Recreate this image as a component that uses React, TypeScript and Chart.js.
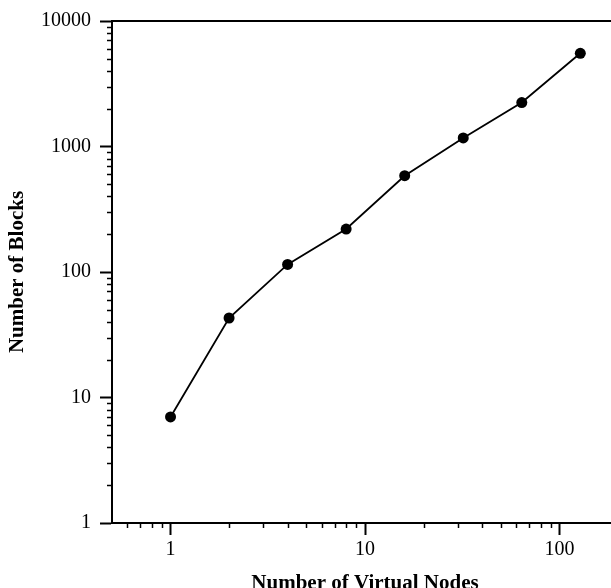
import React, { useEffect, useRef } from "react";
import { Chart, registerables } from "chart.js";

Chart.register(...registerables);

const virtualNodes = [1, 2, 4, 8, 16, 32, 64, 128];
const blockCounts = [7, 43, 115, 220, 585, 1170, 2240, 5530];
const xMajorTicks = [1, 10, 100];
const yMajorTicks = [1, 10, 100, 1000, 10000];
const xMinorTicks = [0.6, 0.7, 0.8, 0.9, 2, 3, 4, 5, 6, 7, 8, 9, 20, 30, 40, 50, 60, 70, 80, 90];
const yMinorTicks = [
  2, 3, 4, 5, 6, 7, 8, 9,
  20, 30, 40, 50, 60, 70, 80, 90,
  200, 300, 400, 500, 600, 700, 800, 900,
  2000, 3000, 4000, 5000, 6000, 7000, 8000, 9000,
];
const xTitle = "Number of Virtual Nodes";
const yTitle = "Number of Blocks";

const FONT = "'Liberation Serif', 'Times New Roman', serif";

const framePlugin = {
  id: "frame",
  afterDraw(chart: any) {
    const { ctx, chartArea, scales } = chart;
    ctx.save();
    ctx.strokeStyle = "#000";
    ctx.lineWidth = 2;
    ctx.beginPath();
    ctx.moveTo(chartArea.left - 1, chartArea.top);
    ctx.lineTo(chartArea.right, chartArea.top);
    ctx.stroke();
    ctx.lineWidth = 1.5;
    const xs = scales.x;
    for (const v of xMinorTicks) {
      const px = Math.round(xs.getPixelForValue(v)) + 0.5;
      ctx.beginPath();
      ctx.moveTo(px, chartArea.bottom);
      ctx.lineTo(px, chartArea.bottom + 5);
      ctx.stroke();
    }
    const ys = scales.y;
    for (const v of yMinorTicks) {
      const py = Math.round(ys.getPixelForValue(v)) + 0.5;
      ctx.beginPath();
      ctx.moveTo(chartArea.left, py);
      ctx.lineTo(chartArea.left - 5, py);
      ctx.stroke();
    }
    ctx.restore();
  },
};

export default function App() {
  const ref = useRef<HTMLCanvasElement | null>(null);
  useEffect(() => {
    if (!ref.current) return;
    const chart = new Chart(ref.current, {
      type: "line",
      data: {
        datasets: [
          {
            data: virtualNodes.map((x, i) => ({ x, y: blockCounts[i] })),
            borderColor: "#000",
            borderWidth: 1.8,
            backgroundColor: "#000",
            pointRadius: 5.5,
            pointBorderWidth: 0,
            pointBackgroundColor: "#000",
            tension: 0,
          },
        ],
      },
      options: {
        animation: false,
        responsive: false,
        devicePixelRatio: 1,
        layout: { padding: { top: 16, right: 7, left: 0, bottom: 0 } },
        plugins: { legend: { display: false }, tooltip: { enabled: false } },
        scales: {
          x: {
            type: "logarithmic",
            position: "bottom",
            min: 0.5,
            max: 200,
            afterBuildTicks: (s: any) => {
              s.ticks = xMajorTicks.map((v) => ({ value: v }));
            },
            afterFit: (s: any) => {
              s.height = 77;
            },
            grid: {
              display: true,
              drawOnChartArea: false,
              drawTicks: true,
              tickLength: 12,
              tickWidth: 2,
              tickColor: "#000",
            },
            border: { display: true, color: "#000", width: 2 },
            ticks: {
              color: "#000",
              font: { family: FONT, size: 20 },
              padding: 3,
              maxRotation: 0,
              autoSkip: false,
              callback: (v: any) => String(v),
            },
            title: {
              display: true,
              text: xTitle,
              color: "#000",
              font: { family: FONT, size: 21, weight: "bold" },
              padding: { top: 0, bottom: 3.5 },
            },
          },
          y: {
            type: "logarithmic",
            position: "left",
            min: 1,
            max: 10000,
            afterBuildTicks: (s: any) => {
              s.ticks = yMajorTicks.map((v) => ({ value: v }));
            },
            afterFit: (s: any) => {
              s.width = 112;
            },
            grid: {
              display: true,
              drawOnChartArea: false,
              drawTicks: true,
              tickLength: 12,
              tickWidth: 2,
              tickColor: "#000",
            },
            border: { display: true, color: "#000", width: 2 },
            ticks: {
              color: "#000",
              font: { family: FONT, size: 20 },
              padding: 9,
              autoSkip: false,
              callback: (v: any) => String(v),
            },
            title: {
              display: true,
              text: yTitle,
              color: "#000",
              font: { family: FONT, size: 21, weight: "bold" },
              padding: { top: 5.3, bottom: 0 },
            },
          },
        },
      },
      plugins: [framePlugin],
    } as any);
    return () => chart.destroy();
  }, []);
  return (
    <div style={{ position: "absolute", left: 0, top: 0, width: 625, height: 600 }}>
      <canvas ref={ref} width={625} height={600} />
    </div>
  );
}
